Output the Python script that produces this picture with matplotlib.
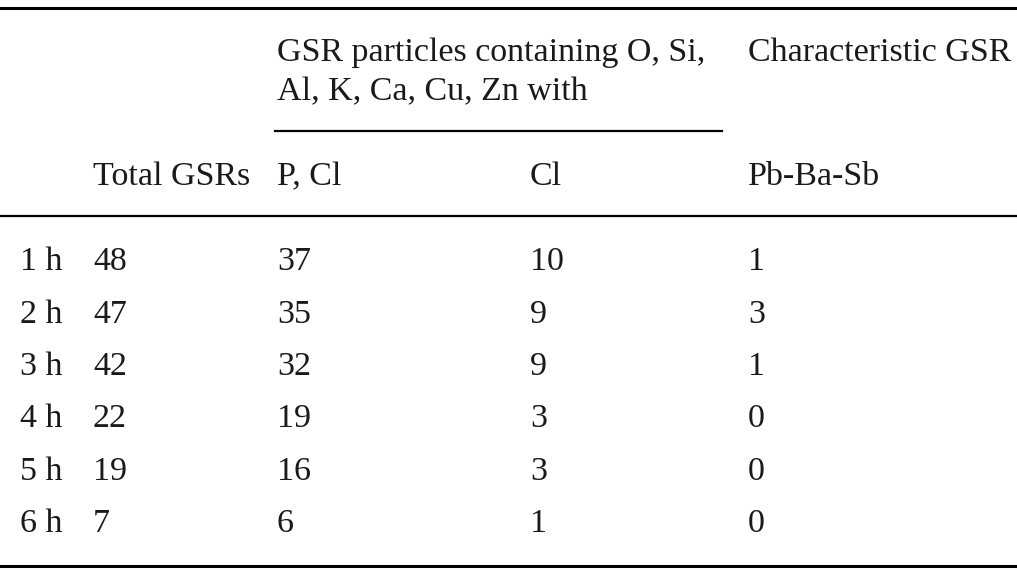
import matplotlib.pyplot as plt

hours = ["1 h", "2 h", "3 h", "4 h", "5 h", "6 h"]
total = [48, 47, 42, 22, 19, 7]
p_cl = [37, 35, 32, 19, 16, 6]
cl = [10, 9, 9, 3, 3, 1]
pb_ba_sb = [1, 3, 1, 0, 0, 0]

W, H = 1017, 570
fig = plt.figure(figsize=(W / 100, H / 100), dpi=100)
ax = fig.add_axes([0, 0, 1, 1])
ax.set_xlim(0, W)
ax.set_ylim(H, 0)
ax.axis("off")

font = dict(family="Liberation Serif", fontsize=24.5, va="center", ha="left", color="#1a1a1a")

# rules
ax.plot([0, W], [8, 8], color="black", lw=2.2)
ax.plot([275, 722], [131, 131], color="black", lw=1.6)
ax.plot([0, W], [216, 216], color="black", lw=1.6)
ax.plot([0, W], [566, 566], color="black", lw=2.2)

# header
ax.text(277, 53, "GSR particles containing O, Si,", **font)
ax.text(277, 92, "Al, K, Ca, Cu, Zn with", **font)
ax.text(748, 53, "Characteristic GSR", **font)
ax.text(93, 177, "Total GSRs", **font)
ax.text(277, 177, "P, Cl", **font)
ax.text(530, 177, "Cl", **font)
ax.text(748, 177, "Pb-Ba-Sb", **font)

row_y = [262, 315, 367, 419, 472, 524]
for i, y in enumerate(row_y):
    ax.text(20, y, hours[i], **font)
    ax.text(93, y, str(total[i]), **font)
    ax.text(277, y, str(p_cl[i]), **font)
    ax.text(530, y, str(cl[i]), **font)
    ax.text(748, y, str(pb_ba_sb[i]), **font)

fig.savefig("out.png", dpi=100)
